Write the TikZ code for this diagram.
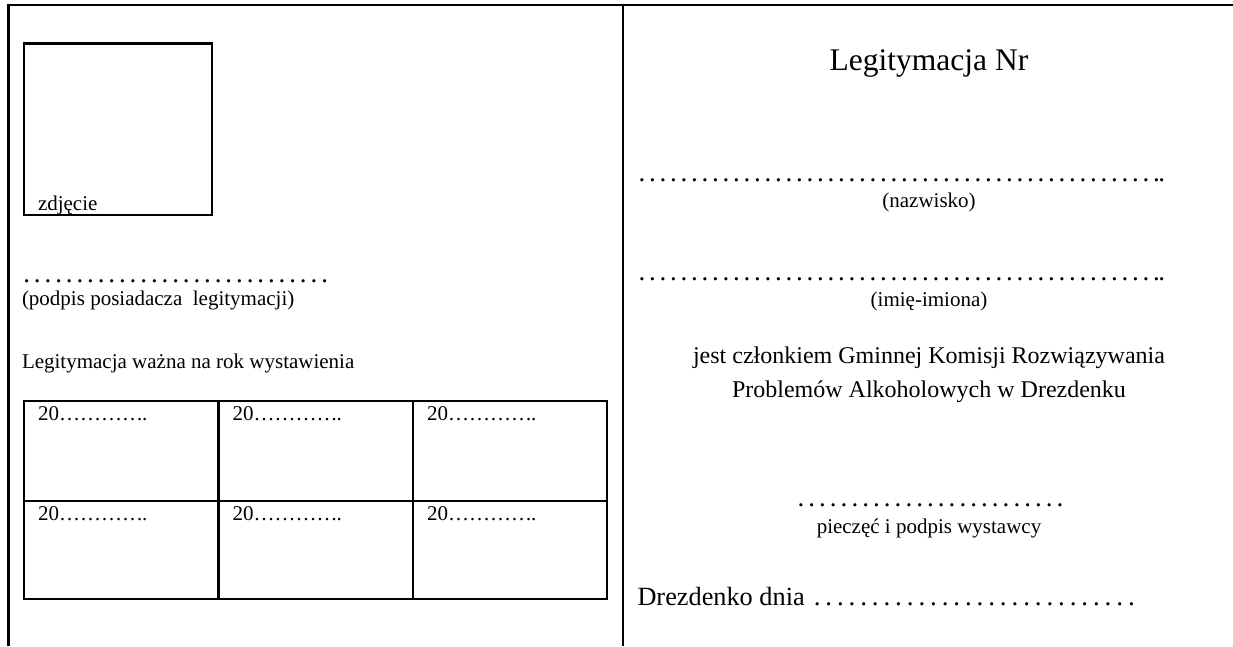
\documentclass[tikz,border=0pt]{standalone}
\usepackage{fontspec}
\setmainfont{Liberation Serif}
\newcommand\fs[1]{\fontsize{#1}{#1}\selectfont}
\newcommand\dotleader[2]{{\fs{27}\hbox to #1pt{\leaders\hbox to #2pt{\hss.\hss}\hfill}}}
\begin{document}
\begin{tikzpicture}[x=1pt,y=-1pt,
  frame/.style={line width=2.2pt},
  txt/.style={inner sep=0pt,outer sep=0pt,anchor=base west,font=\fs{21}},
  ctxt/.style={inner sep=0pt,outer sep=0pt,anchor=base,font=\fs{21}}]
\useasboundingbox (0,0) rectangle (1233,646);
% outer frame
\draw[frame] (1233,5.2) -- (8.5,5.2) -- (8.5,646);
\draw[frame] (622.7,5.2) -- (622.7,646);
% photo box
\draw[frame] (24.3,43.5) rectangle (211.8,215.3);
\node[txt] (zdj) at (38,210) {zdjęcie};
% signature
\node[txt] (sigdots) at (21.4,282) {\dotleader{319}{10.64}};
\node[txt] (sig) at (22,305) {(podpis posiadacza\ \ legitymacji)};
\node[txt] (valid) at (22,368) {Legitymacja ważna na rok wystawienia};
% table
\draw[frame] (23.7,400.7) rectangle (607.3,599.3);
\draw[frame] (23.7,500.7) -- (607.3,500.7);
\draw[frame] (218.4,400.7) -- (218.4,599.3);
\draw[frame] (413,400.7) -- (413,599.3);
\node[txt] (c11) at (38,420) {20…………\kern-1pt.};
\node[txt] (c12) at (232.6,420) {20…………\kern-1pt.};
\node[txt] (c13) at (427,420) {20…………\kern-1pt.};
\node[txt] (c21) at (38,520) {20…………\kern-1pt.};
\node[txt] (c22) at (232.6,520) {20…………\kern-1pt.};
\node[txt] (c23) at (427,520) {20…………\kern-1pt.};
% right side
\node[ctxt,font=\fs{31.5}] (title) at (929,70) {Legitymacja Nr};
\node[txt] (d1) at (636.75,181) {\dotleader{525}{10.5}{\fs{27}\kern-3.4pt.}};
\node[ctxt] (nazw) at (929,207) {(nazwisko)};
\node[txt] (d2) at (636.75,280) {\dotleader{525}{10.5}{\fs{27}\kern-3.4pt.}};
\node[ctxt] (imie) at (929,306) {(imię-imiona)};
\node[ctxt,font=\fs{24}] (jest1) at (929,363) {jest członkiem Gminnej Komisji Rozwiązywania};
\node[ctxt,font=\fs{24}] (jest2) at (929,397) {Problemów Alkoholowych w Drezdenku};
\node[ctxt] (d3) at (930.5,506) {\dotleader{270}{10.8}};
\node[ctxt] (piecz) at (929,533) {pieczęć i podpis wystawcy};
\node[txt,font=\fs{26.3}] (drez) at (637.5,605) {Drezdenko dnia \dotleader{326}{11.64}};
\end{tikzpicture}
\end{document}
